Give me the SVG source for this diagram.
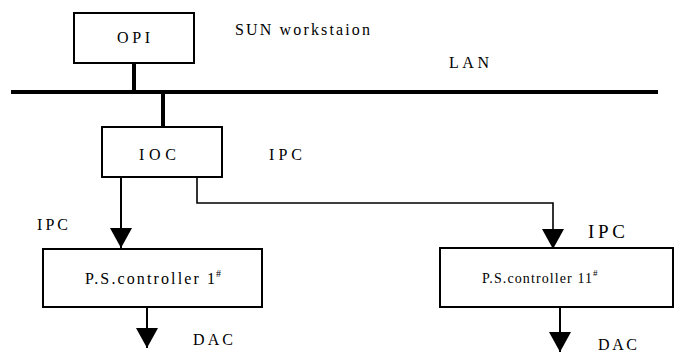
<svg xmlns="http://www.w3.org/2000/svg" width="675" height="352" viewBox="0 0 675 352">
<defs>
<style>
.box{fill:#fff;stroke:#000;stroke-width:2}
.t{font-family:'Liberation Serif','Times New Roman','DejaVu Serif',serif;fill:#000;font-size:16px}
.s14{font-size:14px}
.s19{font-size:19px}
.sup{font-size:10px}
.thick{stroke:#000;stroke-width:4;fill:none}
.ln{stroke:#000;stroke-width:2;fill:none}
.thin{stroke:#000;stroke-width:1.6;fill:none}
</style>
<marker id="ah" markerWidth="20" markerHeight="22" refX="20" refY="11" orient="auto" markerUnits="userSpaceOnUse" viewBox="0 0 20 22"><path d="M0,0 L20,11 L0,22 z" fill="#000"/></marker>
</defs>
<rect width="675" height="352" fill="#fff"/>
<g id="connectors">
<line class="thick" x1="11" y1="92" x2="658" y2="92"/>
<line class="thick" x1="134" y1="63" x2="134" y2="92"/>
<line class="thick" x1="163" y1="92" x2="163" y2="127"/>
<line class="ln" x1="121" y1="177" x2="121" y2="248" marker-end="url(#ah)"/>
<path class="thin" d="M197,177 V203 H553 V249" marker-end="url(#ah)"/>
<line class="ln" x1="147" y1="307" x2="147" y2="348" marker-end="url(#ah)"/>
<line class="ln" x1="560" y1="307" x2="560" y2="352" marker-end="url(#ah)"/>
</g>
<g id="opi">
<rect class="box" x="74" y="13" width="120" height="50"/>
<text class="t" x="117" y="43" textLength="33" lengthAdjust="spacing">OPI</text>
</g>
<g id="ioc">
<rect class="box" x="102" y="127" width="120" height="50"/>
<text class="t" x="139" y="160" textLength="37" lengthAdjust="spacing">IOC</text>
</g>
<g id="ps1">
<rect class="box" x="43" y="249" width="219" height="58"/>
<text class="t" x="85" y="284" textLength="130" lengthAdjust="spacing">P.S.controller 1</text>
<text class="t sup" x="216" y="277">#</text>
</g>
<g id="ps11">
<rect class="box" x="440" y="248" width="233" height="59"/>
<text class="t s14" x="482" y="283" textLength="110" lengthAdjust="spacing">P.S.controller 11</text>
<text class="t sup" x="593" y="276" style="font-size:9px">#</text>
</g>
<g id="labels">
<text class="t" x="235" y="35" textLength="135" lengthAdjust="spacing">SUN workstaion</text>
<text class="t" x="449" y="68" textLength="40" lengthAdjust="spacing">LAN</text>
<text class="t" x="269" y="160" textLength="33" lengthAdjust="spacing">IPC</text>
<text class="t" x="37" y="230" textLength="31" lengthAdjust="spacing">IPC</text>
<text class="t s19" x="588" y="238" textLength="37" lengthAdjust="spacing">IPC</text>
<text class="t" x="193" y="345" textLength="40" lengthAdjust="spacing">DAC</text>
<text class="t" x="598" y="350" textLength="39" lengthAdjust="spacing">DAC</text>
</g>
</svg>
